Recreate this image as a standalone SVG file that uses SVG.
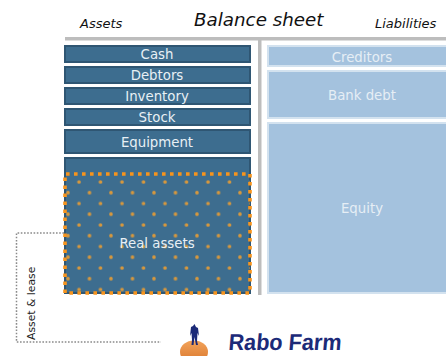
<svg xmlns="http://www.w3.org/2000/svg" width="446" height="356" viewBox="0 0 446 356">
<style>
text{font-family:"DejaVu Sans",Verdana,sans-serif}
.h{font-style:italic;fill:#111}
.a{fill:#3d6d8f;stroke:#2f5673;stroke-width:2}
.l{fill:#a4c2de;stroke:#d3e2ef;stroke-width:2}
.t{fill:#e8f0f5;font-size:13.300px;text-anchor:middle}
.r{fill:#e6eef5;font-size:13.300px;text-anchor:middle}
.d{fill:none;stroke:#8a8a8a;stroke-width:1.5;stroke-dasharray:1.6 1.6}
</style>
<defs>
<pattern id="dots" patternUnits="userSpaceOnUse" x="68" y="182" width="21.5" height="21.5">
<circle cx="11" cy="0" r="1.8" fill="#d8983c"/><circle cx="11" cy="21.5" r="1.8" fill="#d8983c"/>
<circle cx="0" cy="10.7" r="1.8" fill="#d8983c"/><circle cx="21.5" cy="10.7" r="1.8" fill="#d8983c"/>
</pattern>
<linearGradient id="globe" x1="0" y1="0" x2="0" y2="1"><stop offset="0" stop-color="#f2a35a"/><stop offset="1" stop-color="#d9762c"/></linearGradient>
</defs>
<g id="frame" fill="#bdbdbd">
<rect x="65" y="37" width="381" height="3.500"/>
<rect x="258" y="37" width="3.500" height="258"/>
</g>
<text class="h" x="80" y="28" font-size="13">Assets</text>
<text class="h" x="194" y="26" font-size="18.300">Balance sheet</text>
<text class="h" x="375" y="28" font-size="13">Liabilities</text>
<g id="cash"><rect class="a" x="65" y="46" width="185" height="16"/><text class="t" x="157" y="59">Cash</text></g>
<g id="debtors"><rect class="a" x="65" y="67" width="185" height="16"/><text class="t" x="157" y="80">Debtors</text></g>
<g id="inventory"><rect class="a" x="65" y="88" width="185" height="16"/><text class="t" x="157" y="101">Inventory</text></g>
<g id="stock"><rect class="a" x="65" y="109" width="185" height="16"/><text class="t" x="157" y="122">Stock</text></g>
<g id="equipment"><rect class="a" x="65" y="130" width="185" height="23"/><text class="t" x="157" y="147">Equipment</text></g>
<g id="real-assets">
<rect class="a" x="65" y="158" width="185" height="135"/>
<rect x="65" y="174" width="185" height="119" fill="url(#dots)"/>
<path d="M65 293V174H250V293Z" fill="none" stroke="#f7941d" stroke-width="3.600" stroke-dasharray="3.600 4.400"/>
<text class="t" x="157" y="248">Real assets</text>
</g>
<g id="creditors"><rect class="l" x="268" y="46" width="180" height="20"/><text class="r" x="362" y="62">Creditors</text></g>
<g id="bank-debt"><rect class="l" x="268" y="71" width="180" height="47"/><text class="r" x="362" y="100">Bank debt</text></g>
<g id="equity"><rect class="l" x="268" y="123" width="180" height="170"/><text class="r" x="362" y="213">Equity</text></g>
<g id="connectors"><path class="d" d="M64 233H16.500V342H161"/></g>
<text x="34.500" y="340" font-size="10.800" fill="#222" transform="rotate(-90 34.500 340)">Asset &amp; lease</text>
<g id="rabo-farm">
<ellipse cx="194" cy="352" rx="14" ry="11.500" fill="url(#globe)"/>
<path d="M194.500 324l1.500 3 2 1 1 8-1.500-3-.5 8 1 4h-2l-1.500-8-1 8h-2l.500-5-.5-7-1.500 3 1-9 2-1z" fill="#1b2a78"/>
<text x="258.600" y="350" font-size="23" font-weight="700" fill="#1c2a78" transform="skewX(-5)" style="font-family:'Liberation Sans',Arial,sans-serif" textLength="113" lengthAdjust="spacingAndGlyphs">Rabo Farm</text>
</g>
</svg>
